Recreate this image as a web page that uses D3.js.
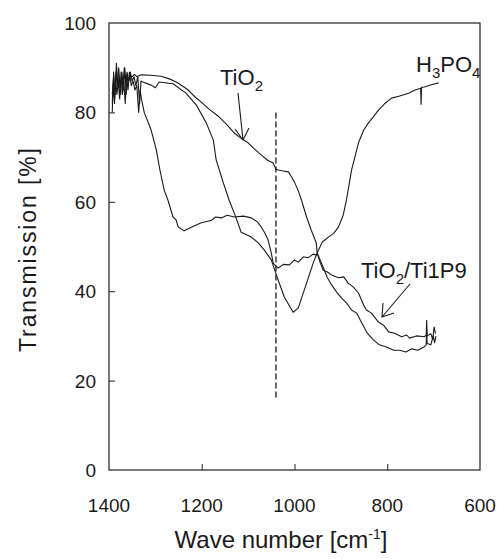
<!DOCTYPE html>
<html>
<head>
<meta charset="utf-8">
<script src="https://cdn.jsdelivr.net/npm/d3@7"></script>
<style>
  body { margin: 0; background: #fff; }
  svg text { font-family: "Liberation Sans", Arial, sans-serif; fill: #1a1a1a; }
  .tick-label { font-size: 19px; }
  .title { font-size: 23px; }
  .label { font-size: 22px; }
</style>
</head>
<body>
<svg id="chart"></svg>
<script>
// wave number [cm-1], transmission [%]
const tio2 = [
  [1393, 84], [1390, 88], [1388, 83], [1385, 89], [1382, 86], [1379, 90], [1376, 85],
  [1373, 88], [1370, 86], [1367, 90], [1364, 87], [1361, 89], [1358, 87], [1355, 88],
  [1350, 88], [1345, 88.5], [1340, 88], [1331, 88.4], [1310, 88.3], [1288, 88.1],
  [1270, 87.5], [1255, 86.8], [1240, 85.8], [1229, 85], [1215, 83.5], [1201, 82.3],
  [1185, 80.8], [1165, 79.2], [1148, 77.5], [1130, 75.4], [1115, 74.2], [1100, 73.2],
  [1086, 71.8], [1072, 70.5], [1058, 69.3], [1046, 68.7], [1040, 67.3], [1035, 67.1],
  [1024, 66.9], [1013, 66.7], [1006, 65.5], [1000, 64.4], [992, 62.5], [985, 60.4],
  [974, 56.6], [964, 53.7], [953, 50.8], [951, 48.5], [942, 46.3], [929, 43.0],
  [920, 41.4], [909, 39.8], [899, 38.5], [888, 37.4], [877, 35.8], [866, 35.1],
  [856, 33.1], [843, 30.6], [830, 29.1], [817, 28.0], [802, 27.5], [786, 26.8],
  [773, 26.8], [760, 26.4], [747, 27.1], [734, 26.8], [721, 27.5], [716, 28],
  [715, 31.5], [714, 28.3], [706, 28], [701, 30], [698, 28.5], [695, 30]
];

const ti1p9 = [
  [1393, 80], [1391, 86], [1388, 82], [1386, 88], [1383, 84], [1380, 87], [1377, 83],
  [1374, 89], [1371, 84], [1368, 87], [1365, 82], [1362, 88], [1359, 85], [1356, 89],
  [1352, 86], [1348, 87], [1344, 85], [1340, 86], [1336, 80], [1333, 85], [1330, 83],
  [1324, 80], [1309, 76], [1298, 71.6], [1290, 67], [1281, 62.6], [1273, 60.4],
  [1262, 56.6], [1255, 55.9], [1251, 54.4], [1238, 53.5], [1220, 54.4], [1201, 55.3],
  [1180, 55.8], [1170, 56.6], [1158, 56.4], [1145, 57], [1130, 56.6], [1110, 56.8],
  [1093, 56.4], [1080, 55.5], [1072, 54.4], [1064, 53], [1057, 51.5], [1050, 48.5],
  [1046, 46.3], [1040, 45.6], [1035, 45.2], [1024, 46], [1011, 45.9], [1000, 47],
  [992, 46.5], [981, 47.7], [970, 47.5], [960, 48.3], [953, 48.1], [951, 48.5],
  [945, 46.5], [938, 44.7], [929, 44.3], [920, 43.6], [905, 43.0], [894, 43.2],
  [884, 41.8], [873, 40.9], [862, 39.6], [851, 36.9], [845, 35.8], [834, 35.1],
  [819, 33.1], [808, 32.4], [797, 30.9], [784, 30.6], [769, 29.8], [758, 30.2],
  [752, 29.5], [737, 30.0], [720, 29.8], [716, 30.2], [715, 33.5], [714, 30],
  [706, 30.5], [702, 29.2], [699, 32], [696, 30.5]
];

const h3po4 = [
  [1393, 82], [1390, 89], [1387, 84], [1384, 91], [1381, 86], [1378, 88], [1375, 84],
  [1372, 89], [1369, 85], [1366, 90], [1363, 84], [1360, 88], [1357, 87], [1354, 89],
  [1350, 87], [1346, 88], [1342, 86], [1338, 88], [1334, 82], [1331, 87], [1327, 86.8],
  [1309, 86.1], [1300, 85.5], [1292, 86.8], [1262, 86.4], [1234, 84.3], [1212, 81.7],
  [1190, 77.6], [1175, 73.8], [1169, 69.4], [1154, 64.4], [1141, 60.4], [1126, 56.4],
  [1115, 53.2], [1093, 52.1], [1078, 50.8], [1065, 49.2], [1050, 47.0], [1039, 43.6],
  [1022, 38.7], [1003, 35.3], [992, 36.2], [974, 41.8], [959, 46.5], [951, 48.6],
  [940, 51], [927, 52.1], [915, 53], [905, 54.4], [895, 57], [888, 60.4], [877, 67.1],
  [862, 73.2], [851, 76], [841, 77.6], [830, 79], [819, 80.5], [805, 82], [791, 83.2],
  [775, 83.6], [754, 84.3], [740, 85], [728, 85.4], [727, 81.8], [726, 85.6],
  [720, 85.7], [705, 86.2], [689, 86.6]
];

const dashedMark = { wave: 1040, from: 16, to: 80 };

const xTicks = [1400, 1200, 1000, 800, 600];
const yTicks = [0, 20, 40, 60, 80, 100];

const width = 497, height = 559;
const svg = d3.select("#chart").attr("width", width).attr("height", height);

const x = d3.scaleLinear().domain([1400, 600]).range([109, 480]);
const y = d3.scaleLinear().domain([0, 100]).range([470, 23]);

// frame
svg.append("rect")
  .attr("x", x(1400)).attr("y", y(100))
  .attr("width", x(600) - x(1400)).attr("height", y(0) - y(100))
  .attr("fill", "none").attr("stroke", "#222").attr("stroke-width", 1.2);

// inward ticks
const xAxis = d3.axisTop(x).tickValues(xTicks.filter(d => d !== 1400 && d !== 600))
  .tickSize(6).tickFormat("");
svg.append("g").attr("transform", `translate(0,${y(0)})`).call(xAxis)
  .call(g => g.select(".domain").remove())
  .call(g => g.selectAll("line").attr("stroke", "#222"));

const yAxis = d3.axisRight(y).tickValues(yTicks.filter(d => d !== 0 && d !== 100))
  .tickSize(6).tickFormat("");
svg.append("g").attr("transform", `translate(${x(1400)},0)`).call(yAxis)
  .call(g => g.select(".domain").remove())
  .call(g => g.selectAll("line").attr("stroke", "#222"));

// tick labels
svg.selectAll(".xl").data(xTicks).join("text")
  .attr("class", "tick-label")
  .attr("x", d => x(d)).attr("y", 512)
  .attr("text-anchor", "middle")
  .text(d => d);

svg.selectAll(".yl").data(yTicks).join("text")
  .attr("class", "tick-label")
  .attr("x", 96).attr("y", d => y(d) + 7)
  .attr("text-anchor", "end")
  .text(d => d);

// axis titles
svg.append("text").attr("class", "title")
  .attr("transform", "translate(36,250) rotate(-90)")
  .attr("text-anchor", "middle")
  .attr("textLength", 204).attr("lengthAdjust", "spacing")
  .text("Transmission [%]");

const xt = svg.append("text").attr("class", "title")
  .attr("x", 281).attr("y", 548).attr("text-anchor", "middle")
  .style("font-size", "24px");
xt.append("tspan").text("Wave number [cm");
xt.append("tspan").attr("dy", -9).attr("font-size", 14).text("-1");
xt.append("tspan").attr("dy", 9).text("]");

// spectra
const line = d3.line().x(d => x(d[0])).y(d => y(d[1]));
[tio2, ti1p9, h3po4].forEach(s => {
  svg.append("path").datum(s)
    .attr("d", line)
    .attr("fill", "none")
    .attr("stroke", "#1a1a1a")
    .attr("stroke-width", 1.1)
    .attr("stroke-linejoin", "round");
});

// dashed marker
svg.append("line")
  .attr("x1", x(dashedMark.wave)).attr("x2", x(dashedMark.wave))
  .attr("y1", y(dashedMark.to)).attr("y2", y(dashedMark.from))
  .attr("stroke", "#1a1a1a").attr("stroke-width", 1.3)
  .attr("stroke-dasharray", "6,3");

// labels with subscripts: objects are subscripts
function label(parts, px, py) {
  const t = svg.append("text").attr("class", "label").attr("x", px).attr("y", py);
  let lowered = false;
  parts.forEach(p => {
    if (typeof p === "object") {
      t.append("tspan").attr("dy", 6).attr("font-size", 15).text(p.sub);
      lowered = true;
    } else {
      t.append("tspan").attr("dy", lowered ? -6 : 0).text(p);
      lowered = false;
    }
  });
}
label(["TiO", { sub: "2" }], 220, 85);
label(["H", { sub: "3" }, "PO", { sub: "4" }], 416, 72);
label(["TiO", { sub: "2" }, "/Ti1P9"], 361, 278);

// arrows
function arrow(from, to, tipA, tipB) {
  const g = svg.append("g").attr("stroke", "#1a1a1a").attr("stroke-width", 1.1).attr("fill", "none");
  g.append("line").attr("x1", from[0]).attr("y1", from[1]).attr("x2", to[0]).attr("y2", to[1]);
  g.append("polyline").attr("points", [tipA, to, tipB].map(p => p.join(",")).join(" "));
}
arrow([238, 93], [243, 140], [235, 129], [249, 128]);
arrow([410, 284], [382, 317], [383, 303], [394, 313]);
</script>
</body>
</html>
